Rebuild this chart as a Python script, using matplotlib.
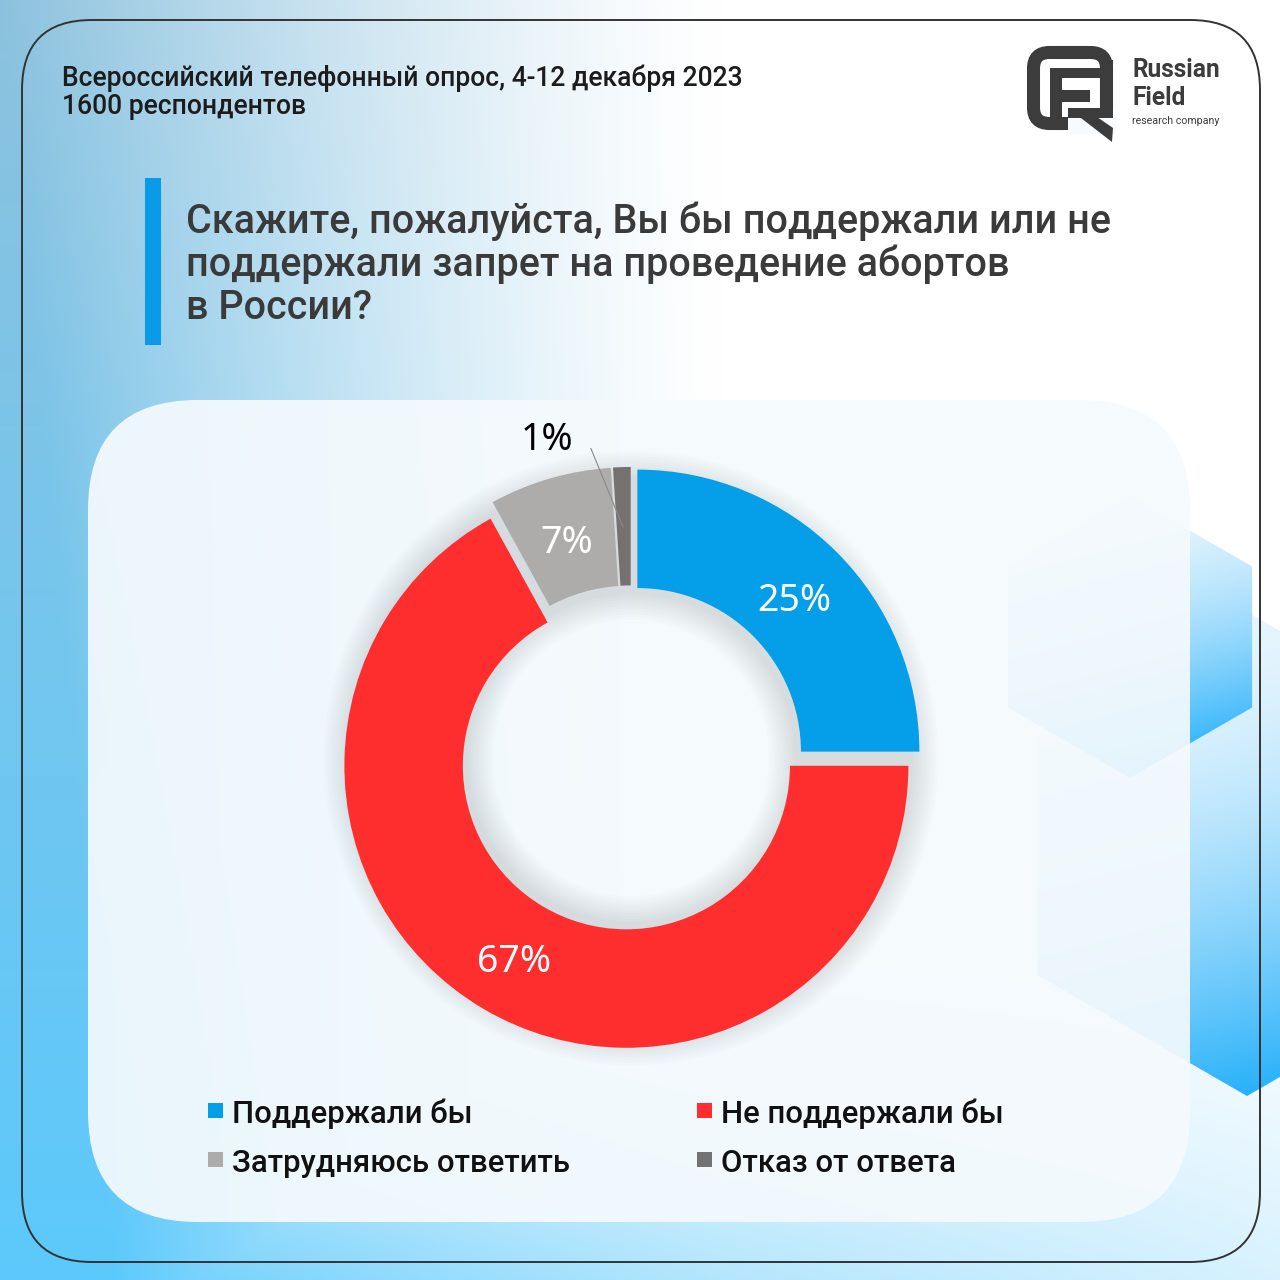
import numpy as np
import matplotlib
matplotlib.use("Agg")
import matplotlib.pyplot as plt
from matplotlib.patches import FancyBboxPatch, Rectangle, Polygon, Wedge
from matplotlib import font_manager as fm

# ---------------- data ----------------
categories = ["Поддержали бы", "Не поддержали бы", "Затрудняюсь ответить", "Отказ от ответа"]
values = [25, 67, 7, 1]
colors = ["#049ee9", "#fe2e2e", "#aeabab", "#757171"]
subtitle = ["Всероссийский телефонный опрос, 4-12 декабря 2023", "1600 респондентов"]
question = ["Скажите, пожалуйста, Вы бы поддержали или не",
            "поддержали запрет на проведение абортов",
            "в России?"]

FONT = ["Noto Sans", "DejaVu Sans"]
plt.rcParams['font.family'] = FONT
TXT = "#3a3a3a"

# pick a medium-weight face if one is installed
MED_FAM, MED_W = "Noto Sans", "normal"
for fam, wt in [("Roboto", "medium"), ("Inter", "medium"), ("Open Sans", "semibold")]:
    for f in fm.fontManager.ttflist:
        if f.name == fam and f.weight in (500, 600, "medium", "semibold"):
            MED_FAM, MED_W = fam, wt
            break
    if MED_FAM != "Noto Sans":
        break
MED = dict(family=[MED_FAM, "DejaVu Sans"], fontweight=MED_W)

W = H = 1280
fig = plt.figure(figsize=(12.8, 12.8), dpi=100)
bg = fig.add_axes([0, 0, 1, 1])
bg.axis("off")

# ---------------- background gradient ----------------
yy, xx = np.mgrid[0:H:4, 0:W:4].astype(float)
left = np.clip(1 - xx / 720.0, 0, 1) ** 1.3
bottom = np.clip((yy - 850) / 430.0, 0, 1) ** 1.4 * np.clip(1 - xx / 1900.0, 0, 1)
wgt = np.clip(np.maximum(left, bottom * 0.75) + 0.25 * left * (yy / H), 0, 1)
top_blue = np.array([0.55, 0.76, 0.87])
bot_blue = np.array([0.36, 0.79, 0.99])
tt = (yy / H)[..., None]
blue = top_blue * (1 - tt) + bot_blue * tt
img = 1 - wgt[..., None] * (1 - blue)
bg.imshow(img, extent=(0, W, H, 0), zorder=0, interpolation="bilinear", aspect="auto")

# ---------------- decorative hexagons ----------------
def hexagon(cx, cy, r):
    pts = []
    for a in [90, 30, -30, -90, -150, 150]:
        ang = np.deg2rad(a)
        pts.append((cx + r * np.cos(ang), cy - r * np.sin(ang)))
    return pts

def grad_hex(cx, cy, r, z):
    poly = Polygon(hexagon(cx, cy, r), closed=True, facecolor="none", edgecolor="none",
                   zorder=z)
    bg.add_patch(poly)
    gy, gx = np.mgrid[0:100, 0:100] / 99.0
    g = np.clip(0.25 * gx + 0.95 * gy - 0.15, 0, 1) ** 1.6
    c0 = np.array([0.90, 0.96, 0.995])
    c1 = np.array([0.06, 0.66, 0.98])
    im = c0 * (1 - g[..., None]) + c1 * g[..., None]
    art = bg.imshow(im, extent=(cx - r, cx + r, cy + r, cy - r), zorder=z,
                    interpolation="bilinear", aspect="auto")
    art.set_clip_path(poly)

grad_hex(1247, 854, 242, 1.0)
grad_hex(1130, 637, 141, 1.1)
bg.set_xlim(0, W)
bg.set_ylim(H, 0)

# ---------------- white panel & outline ----------------
bg.add_patch(FancyBboxPatch((88 + 110, 400 + 110), 1102 - 220, 822 - 220,
                            boxstyle="round,pad=110", facecolor="#f5fafd", edgecolor="none",
                            alpha=0.92, zorder=2))
bg.add_patch(FancyBboxPatch((22 + 70, 20 + 70), 1238 - 140, 1242 - 140,
                            boxstyle="round,pad=70", facecolor="none", edgecolor="#333333",
                            linewidth=1.4, zorder=3))

# ---------------- header texts ----------------
def fit_text(x, y, s, target_w, size, **kw):
    t = bg.text(x, y, s, fontsize=size, va="center", ha="left", zorder=5, **kw)
    fig.canvas.draw()
    bb = t.get_window_extent()
    t.set_fontsize(size * target_w / bb.width)
    return t

t0 = fit_text(62, 78, subtitle[0], 683, 18.7, color="#1c1c1c", **MED)
bg.text(62, 107, subtitle[1], fontsize=t0.get_fontsize(), color="#1c1c1c",
        va="center", ha="left", zorder=5, **MED)

bg.add_patch(Rectangle((145, 178), 16, 167, facecolor="#0a9be8", edgecolor="none", zorder=5))
q0 = fit_text(186, 221, question[0], 924, 27.9, color=TXT, **MED)
for i, line in enumerate(question[1:], start=1):
    bg.text(186, 221 + i * 43.5, line, fontsize=q0.get_fontsize(), color=TXT,
            va="center", ha="left", zorder=5, **MED)

# ---------------- logo ----------------
LOGO = "#3c3c3c"
bg.add_patch(FancyBboxPatch((1033.5 + 16, 52.5 + 16), 73 - 32, 71 - 32,
                            boxstyle="round,pad=16", facecolor="none", edgecolor=LOGO,
                            linewidth=9.4, zorder=5))
bg.add_patch(Rectangle((1068, 118), 48, 16, facecolor="#f8fbfd", edgecolor="none", zorder=6))
bg.add_patch(Rectangle((1050, 68), 52, 10, facecolor=LOGO, edgecolor="none", zorder=6))
bg.add_patch(Rectangle((1050, 68), 12, 50, facecolor=LOGO, edgecolor="none", zorder=6))
bg.add_patch(Rectangle((1062, 90), 28, 12, facecolor=LOGO, edgecolor="none", zorder=6))
bg.add_patch(Rectangle((1068, 108), 38, 10, facecolor=LOGO, edgecolor="none", zorder=6))
bg.add_patch(Rectangle((1100, 60), 13, 58, facecolor=LOGO, edgecolor="none", zorder=6))
bg.add_patch(Polygon([(1068, 108), (1084, 108), (1113, 128), (1112, 142)], closed=True,
                     facecolor=LOGO, edgecolor="none", zorder=7))
BOLD = dict(family=[MED_FAM, "DejaVu Sans"], fontweight="bold")
fit_text(1132, 70, "Russian", 88, 16, color=LOGO, **BOLD)
bg.text(1132, 98, "Field", fontsize=bg.texts[-1].get_fontsize(), color=LOGO,
        va="center", ha="left", zorder=5, **BOLD)
fit_text(1132, 121, "research company", 88, 7.2, color=LOGO, family=[MED_FAM, "DejaVu Sans"])

# ---------------- donut ----------------
R_PX = 282.0
CX, CY = 631.0, 758.0
lim = 1.1
size = 2 * lim * R_PX
pax = fig.add_axes([(CX - size / 2) / W, (H - CY - size / 2) / H, size / W, size / H])
pax.axis("off")
pax.patch.set_alpha(0)

ring_w = 0.42
for k in range(10):
    pax.add_patch(Wedge((0, 0), 1.0 + 0.01 * k, 0, 360, width=ring_w + 0.02 * k,
                        facecolor="black", edgecolor="none", alpha=0.012, zorder=1))

explode = [0.032] * len(values)
wedges, _ = pax.pie(values, colors=colors, startangle=90, counterclock=False,
                    explode=explode, radius=1.0,
                    wedgeprops=dict(width=ring_w, edgecolor="none"))
for w in wedges:
    w.set_zorder(3)
pax.set_xlim(-lim, lim)
pax.set_ylim(-lim, lim)
pax.set_aspect("equal")

LBL = 27
dy = -6 / R_PX
total = float(sum(values))
start = 90.0
for i, (v, w) in enumerate(zip(values, wedges)):
    span = 360.0 * v / total
    mid = np.deg2rad(start - span / 2)
    start -= span
    if v < 3:
        continue
    r = 0.785 + explode[i]
    pax.text(r * np.cos(mid), r * np.sin(mid) + dy, f"{v}%", ha="center", va="center",
             fontsize=LBL, color="white", zorder=5)

def px2d(x, y):
    return ((x - CX) / R_PX, (CY - y) / R_PX)

lx, ly = px2d(547, 437)
pax.text(lx, ly + dy * 0.5, f"{values[3]}%", ha="center", va="center", fontsize=LBL,
         color="black", zorder=5)
p0, p1, p2 = px2d(579, 434), px2d(585, 434), px2d(623, 527)
pax.plot([p0[0], p1[0], p2[0]], [p0[1], p1[1], p2[1]], color="#8a8a8a", lw=0.8, zorder=6)

# ---------------- legend ----------------
leg_pos = [(208, 1111), (697, 1111), (208, 1160), (697, 1160)]
lt = fit_text(232, 1163, categories[2], 338, 22.4, color="#111111", **MED)
LEG = lt.get_fontsize()
lt.remove()
for (x, y), lab, c in zip(leg_pos, categories, colors):
    bg.add_patch(Rectangle((x, y - 8), 15, 15, facecolor=c, edgecolor="none", zorder=5))
    bg.text(x + 24, y + 3, lab, fontsize=LEG, color="#111111",
            va="center", ha="left", zorder=5, **MED)

fig.savefig("out.png", dpi=100)
